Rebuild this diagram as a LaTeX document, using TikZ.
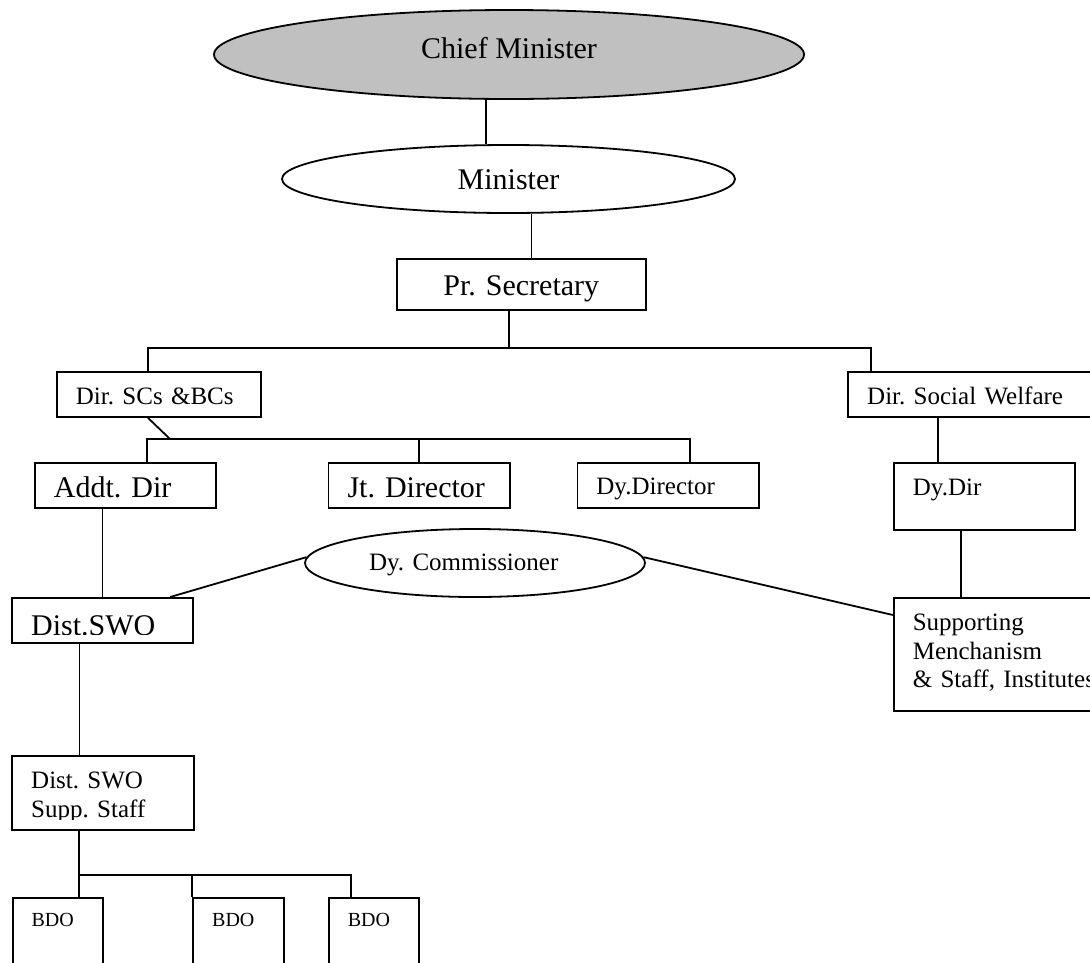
\documentclass[tikz,border=0pt]{standalone}
\usepackage{fontspec}
\setmainfont{Liberation Serif}
\usetikzlibrary{shapes.geometric}
\definecolor{gris}{RGB}{192,192,192}
\frenchspacing

\begin{document}
\begin{tikzpicture}[x=1pt,y=-1pt]
\tikzstyle{ovale}=[ellipse,draw,line width=1.8pt,inner sep=0pt]
\tikzstyle{boite}=[rectangle,draw,line width=1.8pt,anchor=north west,align=left,inner xsep=19pt,inner ysep=0pt]
\tikzstyle{grand}=[font=\fontsize{30}{34}\selectfont]
\tikzstyle{moyen}=[font=\fontsize{25}{28.5}\selectfont]
\tikzstyle{petit}=[font=\fontsize{20}{23}\selectfont]

\useasboundingbox (0,0) rectangle (1090,962);

\node[ovale,grand,fill=gris,minimum width=590pt,minimum height=89pt,text height=20pt,text depth=13pt] (cm) at (509,54.5) {Chief Minister};
\node[ovale,grand,minimum width=453pt,minimum height=68pt,text height=20pt,text depth=0pt] (min) at (508.5,179) {Minister};
\node[boite,grand,text width=211.3pt,align=center,text height=37pt,text depth=14pt] (prsec) at (395.7,258) {Pr. Secretary};

\node[boite,moyen,text width=166pt,text height=33pt,text depth=12pt] (dirsc) at (56,371) {Dir. SCs \&BCs};
\node[boite,moyen,text width=230pt,text height=33pt,text depth=12pt] (dirsw) at (847.3,371) {Dir. Social Welfare};

\node[boite,grand,text width=143pt,text height=35pt,text depth=10pt] (addt) at (34,462) {Addt. Dir};
\node[boite,grand,text width=143.4pt,text height=35pt,text depth=10pt] (jt) at (327.6,462) {Jt. Director};
\node[boite,moyen,text width=143.3pt,text height=32pt,text depth=13pt] (dydirector) at (576.5,462) {Dy.Director};
\node[boite,moyen,text width=142.9pt,text height=33pt,text depth=34pt] (dydir) at (892.9,462) {Dy.Dir};

\node[ovale,moyen,minimum width=340pt,minimum height=68pt,text width=212pt,align=left,text height=17pt,text depth=3pt] (dycomm) at (475,563) {Dy. Commissioner};

\node[boite,grand,text width=143pt,text height=38pt,text depth=7pt] (dswo) at (11.2,597) {Dist.SWO};
\node[boite,moyen,text width=200pt,text height=33pt,text depth=80pt] (supp) at (892.9,597) {Supporting\\Menchanism\\\& Staff, Institutes};
\node[boite,moyen,text width=143.4pt,text height=33pt,text depth=41.3pt] (supst) at (11.3,755) {Dist. SWO\\Supp. Staff};

\node[boite,petit,text width=52pt,text height=29pt,text depth=51pt] (bdo1) at (11.7,896.7) {BDO};
\node[boite,petit,text width=52.7pt,text height=29pt,text depth=51pt] (bdo2) at (192.3,896.7) {BDO};
\node[boite,petit,text width=52.3pt,text height=29pt,text depth=51pt] (bdo3) at (328,896.7) {BDO};

% bas des textes coupes
\fill[white] ([xshift=15pt,yshift=2pt]dswo.south west) rectangle ([xshift=-15pt,yshift=9pt]dswo.south east);
\fill[white] ([xshift=15pt,yshift=2pt]supst.south west) rectangle ([xshift=-15pt,yshift=11pt]supst.south east);

\tikzstyle{lien}=[line width=1.8pt]
\draw[lien] ([xshift=-23pt]cm.south) -- ([xshift=-22.5pt]min.north);
\coordinate (p1) at ([xshift=23pt]min.south);
\draw[lien] (p1) -- (p1 |- prsec.north);
\coordinate (b1) at (509,348);
\draw[lien] (prsec.south -| b1) -- (b1);
\draw[lien] ([xshift=-11pt]dirsc.north) |- (b1) -| ([xshift=23.7pt]dirsw.north west);
\coordinate (b2) at (170,439);
\draw[lien] ([xshift=-11pt]dirsc.south) -- (b2);
\draw[lien] ([xshift=113pt]addt.north west) |- (b2) -| ([xshift=113.5pt]dydirector.north west);
\draw[lien] (jt.north) -- (jt.north |- b2);
\coordinate (p2) at ([xshift=45.2pt]dydir.north west);
\draw[lien] (p2 |- dirsw.south) -- (p2);
\draw[lien] ([xshift=68pt]dydir.south west) -- ([xshift=68pt]supp.north west);
\draw[lien] (dycomm.178) -- ([xshift=159pt]dswo.north west);
\draw[lien] (dycomm.2) -- ([yshift=-18pt]supp.north west);
\draw[lien] ([xshift=68.4pt]addt.south west) -- ([xshift=91.2pt]dswo.north west);
\draw[lien] ([xshift=68.3pt]dswo.south west) -- ([xshift=68.2pt]supst.north west);
\coordinate (b3) at (79.3,874.7);
\draw[lien] ([xshift=68pt]supst.south west) -- ([xshift=67.6pt]bdo1.north west);
\draw[lien] (b3) -| ([xshift=22.7pt]bdo3.north west);
\draw[lien] (bdo2.north west) -- (bdo2.north west |- b3);

\end{tikzpicture}
\end{document}
